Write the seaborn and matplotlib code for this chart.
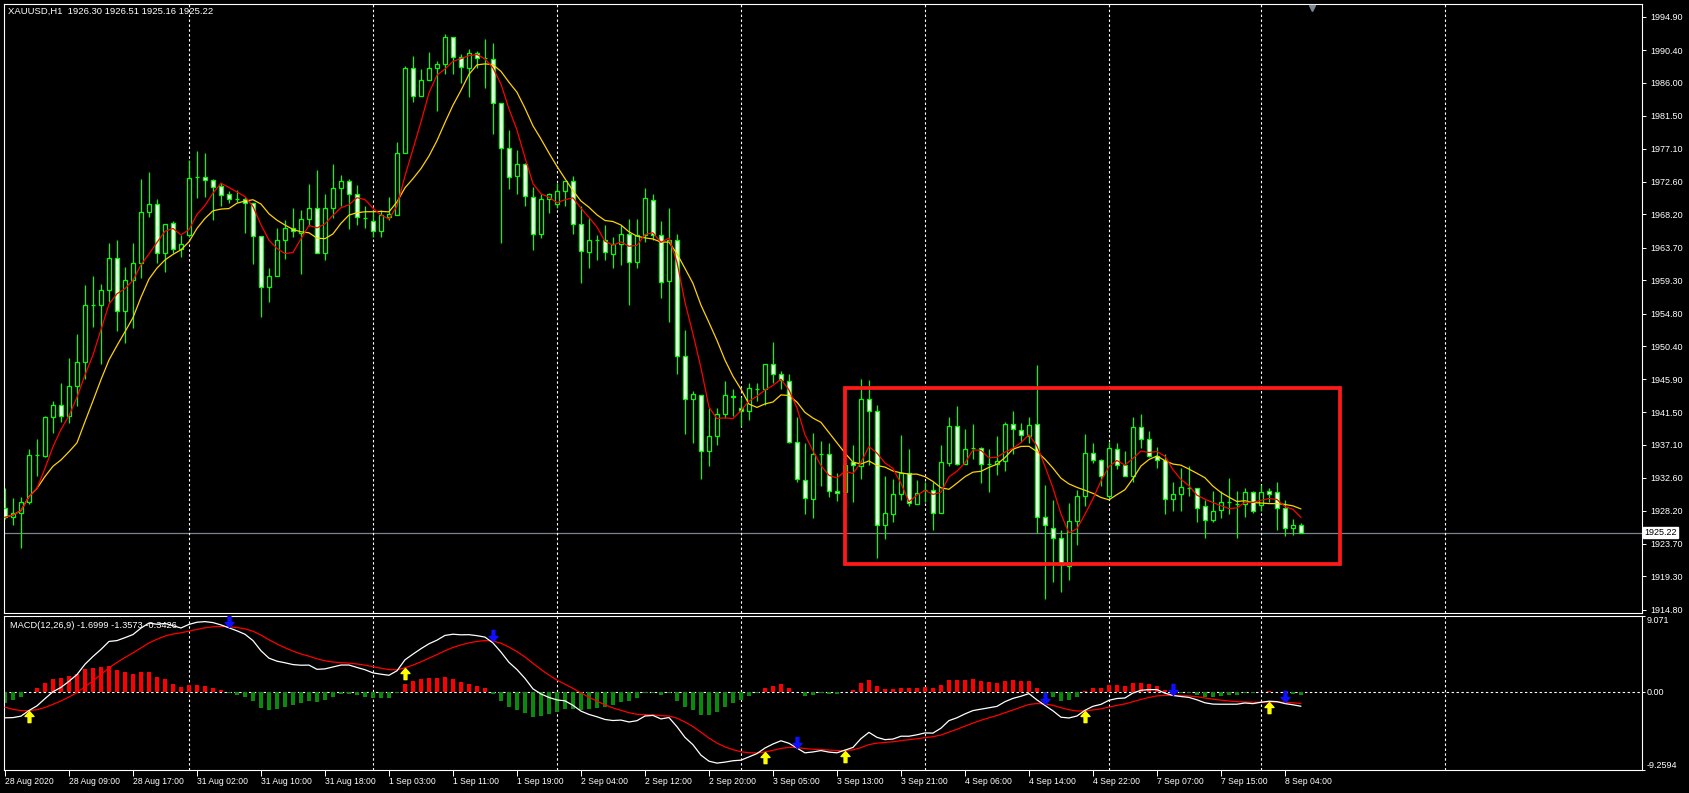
import numpy as np
import pandas as pd
import matplotlib
matplotlib.use('Agg')
import matplotlib.pyplot as plt
import matplotlib.transforms as mtransforms
from matplotlib.patches import Rectangle
from matplotlib.path import Path
import seaborn as sns

# XAUUSD H1 candles, bar 0 = 28 Aug 2020 01:00
opens = [1928.6, 1927.3, 1927.8, 1929.4, 1935.7, 1935.6, 1940.8, 1942.5, 1941.0, 1945.0,
         1948.2, 1955.9, 1955.9, 1958.0, 1962.3, 1955.2, 1959.4, 1961.6, 1968.5, 1969.6,
         1963.0, 1967.1, 1963.5, 1965.4, 1973.2, 1973.2, 1972.9, 1972.1, 1970.9, 1970.3,
         1970.3, 1969.7, 1965.3, 1958.4, 1959.9, 1964.7, 1966.3, 1965.7, 1967.6, 1969.0,
         1963.0, 1969.0, 1971.7, 1972.7, 1971.0, 1967.7, 1967.3, 1966.0, 1967.9, 1968.1,
         1976.5, 1988.0, 1984.2, 1986.3, 1988.0, 1988.5, 1992.2, 1989.4, 1988.0, 1990.0,
         1989.3, 1989.2, 1983.2, 1977.2, 1973.4, 1975.0, 1970.6, 1965.6, 1970.3, 1969.6,
         1971.4, 1972.7, 1966.9, 1963.1, 1964.8, 1964.8, 1962.9, 1964.2, 1965.6, 1961.8,
         1965.4, 1970.2, 1965.4, 1959.2, 1964.8, 1949.1, 1943.3, 1943.8, 1936.2, 1938.3,
         1941.2, 1943.7, 1942.1, 1941.6, 1944.6, 1944.6, 1948.0, 1946.6, 1945.7, 1937.4,
         1932.3, 1929.7, 1935.8, 1935.8, 1930.8, 1930.7, 1934.7, 1934.2, 1943.3, 1941.6,
         1926.2, 1927.7, 1930.4, 1933.3, 1929.1, 1931.0, 1931.0, 1927.8, 1934.6, 1939.6,
         1934.5, 1936.6, 1936.6, 1934.5, 1934.5, 1934.9, 1939.9, 1939.1, 1938.3, 1939.9,
         1927.3, 1925.9, 1924.5, 1920.7, 1926.8, 1930.2, 1936.0, 1935.0, 1930.2, 1936.5,
         1934.3, 1932.9, 1939.5, 1937.9, 1935.6, 1935.0, 1929.7, 1930.4, 1931.3, 1931.2,
         1928.8, 1926.9, 1928.3, 1929.3, 1929.1, 1929.1, 1930.7, 1929.0, 1930.8, 1930.7,
         1928.5, 1925.8, 1926.30]
highs = [1931.2, 1929.9, 1930.0, 1936.5, 1937.9, 1941.0, 1943.0, 1945.4, 1948.8, 1952.1,
         1958.6, 1959.9, 1958.8, 1964.3, 1964.7, 1961.1, 1964.3, 1973.0, 1973.9, 1970.3,
         1966.9, 1967.3, 1965.4, 1975.5, 1976.7, 1976.5, 1973.0, 1972.5, 1971.3, 1971.5,
         1970.5, 1969.8, 1965.3, 1960.9, 1966.4, 1967.5, 1969.0, 1968.8, 1972.3, 1974.2,
         1970.9, 1975.0, 1973.5, 1973.0, 1972.2, 1969.4, 1968.8, 1968.8, 1970.6, 1978.0,
         1988.2, 1989.6, 1987.9, 1990.1, 1988.9, 1992.6, 1992.2, 1989.8, 1990.5, 1990.3,
         1991.9, 1991.4, 1983.2, 1979.6, 1976.9, 1975.1, 1971.9, 1970.9, 1971.1, 1972.5,
         1972.7, 1973.4, 1969.3, 1967.7, 1965.4, 1966.8, 1965.2, 1966.8, 1967.6, 1967.6,
         1971.8, 1970.9, 1967.3, 1969.0, 1965.6, 1952.6, 1944.3, 1943.8, 1942.0, 1942.0,
         1945.7, 1944.6, 1943.6, 1945.4, 1945.4, 1948.0, 1951.0, 1947.1, 1946.7, 1940.8,
         1937.3, 1938.7, 1937.6, 1937.3, 1933.3, 1934.9, 1937.0, 1945.9, 1945.8, 1942.5,
         1932.8, 1932.5, 1938.4, 1936.5, 1932.3, 1932.0, 1932.1, 1937.0, 1940.9, 1942.3,
         1939.2, 1939.9, 1936.8, 1936.5, 1938.3, 1940.1, 1941.7, 1940.0, 1940.8, 1947.9,
         1931.7, 1929.6, 1925.6, 1929.2, 1931.0, 1938.6, 1937.3, 1935.2, 1937.5, 1937.3,
         1936.3, 1940.8, 1941.2, 1938.9, 1936.8, 1935.9, 1932.0, 1933.9, 1934.2, 1931.2,
         1929.6, 1930.9, 1930.8, 1932.6, 1930.9, 1931.2, 1930.9, 1931.7, 1931.3, 1932.0,
         1929.6, 1927.1, 1926.51]
lows = [1927.0, 1926.2, 1923.1, 1929.1, 1932.9, 1935.4, 1938.7, 1940.1, 1940.0, 1942.3,
        1945.9, 1953.0, 1948.0, 1956.4, 1952.4, 1950.8, 1952.8, 1959.6, 1967.8, 1961.7,
        1960.4, 1963.0, 1962.5, 1965.1, 1970.4, 1970.6, 1967.4, 1969.3, 1969.8, 1969.9,
        1965.7, 1961.5, 1954.3, 1956.4, 1959.9, 1962.2, 1965.1, 1960.2, 1966.7, 1963.0,
        1962.1, 1967.7, 1969.3, 1966.2, 1966.8, 1966.4, 1965.1, 1965.2, 1967.5, 1968.1,
        1976.5, 1983.4, 1984.2, 1986.3, 1982.1, 1987.2, 1987.2, 1985.9, 1984.0, 1988.0,
        1985.3, 1979.0, 1964.3, 1971.6, 1970.9, 1969.3, 1963.4, 1965.0, 1968.4, 1969.0,
        1969.3, 1965.5, 1958.9, 1961.0, 1962.1, 1962.1, 1960.9, 1961.4, 1956.0, 1961.0,
        1964.5, 1964.8, 1956.9, 1953.6, 1946.6, 1938.6, 1937.3, 1932.5, 1934.2, 1937.0,
        1940.7, 1941.0, 1939.6, 1940.4, 1943.0, 1942.5, 1945.4, 1944.6, 1937.3, 1932.1,
        1927.7, 1927.2, 1931.5, 1930.0, 1929.5, 1930.5, 1929.3, 1932.5, 1934.4, 1921.8,
        1924.4, 1926.7, 1929.6, 1928.8, 1929.1, 1929.4, 1925.6, 1927.8, 1934.2, 1934.4,
        1934.5, 1935.2, 1931.9, 1930.7, 1933.0, 1933.5, 1935.9, 1937.4, 1937.3, 1925.2,
        1916.2, 1918.6, 1917.2, 1918.8, 1923.5, 1928.8, 1934.6, 1931.5, 1929.9, 1933.8,
        1932.8, 1932.0, 1936.6, 1935.4, 1934.0, 1927.7, 1928.2, 1928.2, 1930.2, 1926.6,
        1924.5, 1926.6, 1927.2, 1927.7, 1924.5, 1927.3, 1927.8, 1928.2, 1929.4, 1925.6,
        1924.8, 1924.9, 1925.16]
closes = [1927.3, 1927.9, 1929.4, 1935.7, 1935.7, 1940.8, 1942.5, 1941.0, 1945.0, 1948.2,
          1955.9, 1956.0, 1958.0, 1962.3, 1955.2, 1959.4, 1961.6, 1968.5, 1969.6, 1963.0,
          1966.9, 1963.5, 1964.2, 1973.1, 1973.3, 1972.9, 1971.9, 1970.8, 1970.3, 1970.3,
          1969.7, 1965.3, 1958.4, 1959.9, 1964.7, 1966.3, 1966.0, 1967.6, 1969.0, 1963.0,
          1969.0, 1971.8, 1972.7, 1971.0, 1967.8, 1967.7, 1966.0, 1968.1, 1968.3, 1976.5,
          1988.0, 1984.2, 1986.3, 1988.0, 1988.5, 1992.2, 1989.4, 1988.1, 1990.0, 1989.3,
          1989.3, 1983.2, 1977.2, 1973.3, 1975.0, 1970.7, 1965.6, 1970.3, 1971.0, 1971.3,
          1972.7, 1966.9, 1963.3, 1964.8, 1964.8, 1963.1, 1964.2, 1965.6, 1961.8, 1965.4,
          1970.4, 1965.4, 1959.1, 1964.8, 1949.1, 1943.3, 1944.0, 1936.2, 1938.3, 1941.3,
          1943.8, 1943.5, 1941.6, 1944.7, 1944.6, 1948.0, 1946.6, 1945.8, 1937.5, 1932.4,
          1929.9, 1935.8, 1935.8, 1930.9, 1930.6, 1934.4, 1934.3, 1943.3, 1941.6, 1926.2,
          1927.8, 1930.5, 1933.3, 1929.2, 1930.6, 1931.0, 1927.8, 1934.7, 1939.6, 1934.5,
          1936.5, 1936.6, 1934.5, 1934.5, 1934.9, 1939.9, 1939.2, 1938.4, 1939.8, 1927.3,
          1926.3, 1924.5, 1920.9, 1926.8, 1930.2, 1936.0, 1935.0, 1932.9, 1936.6, 1934.3,
          1932.9, 1939.5, 1937.9, 1935.6, 1935.0, 1929.7, 1930.4, 1931.4, 1931.3, 1928.6,
          1926.9, 1928.2, 1929.3, 1929.3, 1929.1, 1930.7, 1928.1, 1930.7, 1930.5, 1928.5,
          1925.9, 1926.2, 1925.22]

time_labels = ['28 Aug 2020', '28 Aug 09:00', '28 Aug 17:00', '31 Aug 02:00', '31 Aug 10:00',
               '31 Aug 18:00', '1 Sep 03:00', '1 Sep 11:00', '1 Sep 19:00', '2 Sep 04:00',
               '2 Sep 12:00', '2 Sep 20:00', '3 Sep 05:00', '3 Sep 13:00', '3 Sep 21:00',
               '4 Sep 06:00', '4 Sep 14:00', '4 Sep 22:00', '7 Sep 07:00', '7 Sep 15:00',
               '8 Sep 04:00']
label_step = 8
day_start_bars = [23, 46, 69, 92, 115, 138, 157, 180]
price_ticks = [1994.90, 1990.40, 1986.00, 1981.50, 1977.10, 1972.60, 1968.20, 1963.70,
               1959.30, 1954.80, 1950.40, 1945.90, 1941.50, 1937.10, 1932.60, 1928.20,
               1923.70, 1919.30, 1914.80]
macd_ticks = [9.071, 0.0, -9.2594]
macd_readout = [-1.6999, -1.3573, -0.3426]
# indicator state carried in from the bars before the window (the MACD opens near -3)
ema12_start = 1931.0
ema26_start = 1934.0
signal_start = -1.5
box_bars = [105.0, 166.9]
box_prices = [1920.94, 1944.81]

LIME = '#00ff00'
W, H = 1689, 793

sns.set_theme(style='dark', rc={'axes.facecolor': 'black', 'figure.facecolor': 'black',
                                'axes.edgecolor': 'white', 'axes.grid': False})
plt.rcParams['font.family'] = ['Liberation Sans', 'DejaVu Sans']


def ema(values, span, start):
    a = 2.0 / (span + 1)
    out = []
    prev = start
    for v in values:
        prev = a * v + (1 - a) * prev
        out.append(prev)
    return np.array(out)


df = pd.DataFrame({'open': opens, 'high': highs, 'low': lows, 'close': closes})
df['bar'] = np.arange(len(df))
df['ma_fast'] = df['close'].rolling(5, min_periods=1).mean()
df['ma_slow'] = df['close'].rolling(10, min_periods=1).mean()
df['macd'] = ema(closes, 12, ema12_start) - ema(closes, 26, ema26_start)
df['signal'] = ema(df['macd'], 9, signal_start)
df['hist'] = df['macd'] - df['signal']

fig = plt.figure(figsize=(W / 100, H / 100), dpi=100, facecolor='black')


def px_axes(x0, y0, x1, y1):
    return fig.add_axes([x0 / W, 1 - y1 / H, (x1 - x0) / W, (y1 - y0) / H])


ax_p = px_axes(4, 4, 1641.7, 613)
ax_m = px_axes(4, 615.6, 1641.7, 769.9)
xlim = (-0.125, 204.6)

# ---- price panel
bull = df['close'] >= df['open']
ax_p.vlines(df['bar'], df['low'], df['high'], color=LIME, lw=0.9, zorder=2)
body_lo = df[['open', 'close']].min(axis=1)
body_h = (df['close'] - df['open']).abs()
ax_p.bar(df['bar'], body_h, bottom=body_lo, width=0.6,
         color=np.where(bull, 'black', 'white'), edgecolor=LIME, linewidth=0.9, zorder=3)
sns.lineplot(data=df, x='bar', y='ma_slow', color='#ffd200', lw=0.9, ax=ax_p, zorder=4)
sns.lineplot(data=df, x='bar', y='ma_fast', color='#ff0000', lw=0.9, ax=ax_p, zorder=5)

ax_p.axhline(df['close'].iloc[-1], color='#7a8490', lw=0.9, zorder=1)
for b in day_start_bars:
    ax_p.axvline(b, color='white', lw=0.8, ls=(0, (2.2, 2.2)), zorder=1)
    ax_m.axvline(b, color='white', lw=0.8, ls=(0, (2.2, 2.2)), zorder=1)

ax_p.add_patch(Rectangle((box_bars[0], box_prices[0]), box_bars[1] - box_bars[0],
                         box_prices[1] - box_prices[0], fill=False,
                         edgecolor='#ff1a1a', lw=2.7, zorder=6))

ax_p.set_xlim(*xlim)
ax_p.set_ylim(1914.36, 1996.62)
ax_p.set_xticks([])
ax_p.yaxis.tick_right()
ax_p.set_yticks(price_ticks)
ax_p.set_yticklabels([f'{v:.2f}' for v in price_ticks])
ax_p.tick_params(axis='y', colors='white', labelsize=6.5, length=3, width=0.7, pad=3,
                 direction='out', right=True, left=False)
ax_p.set_xlabel('')
ax_p.set_ylabel('')

trans_y = mtransforms.blended_transform_factory(ax_p.transAxes, ax_p.transData)
ax_p.text(1.0015, df['close'].iloc[-1], f"{df['close'].iloc[-1]:.2f}", transform=trans_y,
          ha='left', va='center', fontsize=6.5, color='black', clip_on=False, zorder=10,
          bbox=dict(boxstyle='square,pad=0.12', fc='white', ec='white'))
trans_x = mtransforms.blended_transform_factory(ax_p.transData, ax_p.transAxes)
ax_p.plot([len(df) + 0.4], [0.993], marker='v', color='#7d8894', ms=5, transform=trans_x,
          clip_on=False, zorder=10)

last = df.iloc[-1]
fig.text(8 / W, 1 - 11 / H,
         f"XAUUSD,H1  {last['open']:.2f} {last['high']:.2f} {last['low']:.2f} {last['close']:.2f}",
         color='white', fontsize=6.8, ha='left', va='center')

# ---- MACD panel
ax_m.axhline(0, color='white', lw=0.8, ls=(0, (2.2, 2.2)), zorder=1)
ax_m.bar(df['bar'], df['hist'], width=0.48, linewidth=0, edgecolor='none',
         color=np.where(df['hist'] >= 0, '#ff0000', '#0a8a0a'), zorder=2)
sns.lineplot(data=df, x='bar', y='signal', color='#ff0000', lw=0.9, ax=ax_m, zorder=3)
sns.lineplot(data=df, x='bar', y='macd', color='white', lw=0.9, ax=ax_m, zorder=4)

# cross arrows: tip sits on the signal line
up_arrow = Path([(0, 0), (0.4, -0.45), (0.13, -0.45), (0.13, -1.0), (-0.13, -1.0),
                 (-0.13, -0.45), (-0.4, -0.45), (0, 0)], closed=True)
down_arrow = Path([(x, -y) for x, y in up_arrow.vertices], closed=True)
above = (df['macd'] > df['signal']).astype(int)
cross = above.diff().fillna(0)
ups = df[cross > 0]
downs = df[cross < 0]
ax_m.plot(ups['bar'], ups['signal'], ls='none', marker=up_arrow, ms=16,
          color='#ffff00', mec='#ffff00', zorder=6)
ax_m.plot(downs['bar'], downs['signal'], ls='none', marker=down_arrow, ms=16,
          color='#1010ff', mec='#1010ff', zorder=6)

fig.text(9.8 / W, 1 - 625 / H,
         'MACD(12,26,9) ' + ' '.join(f'{v:.4f}' for v in macd_readout),
         color='white', fontsize=6.7, ha='left', va='center')

ax_m.set_xlim(*xlim)
ax_m.set_ylim(-9.2594, 9.071)
ax_m.yaxis.tick_right()
ax_m.set_yticks(macd_ticks)
ax_m.set_yticklabels(['9.071', '0.00', '-9.2594'])
ax_m.tick_params(axis='y', colors='white', labelsize=6.5, length=2, width=0.7, pad=1.5,
                 right=True, left=False)
tl = ax_m.get_yticklabels()
tl[0].set_va('top')
tl[-1].set_va('bottom')
ax_m.set_xticks(np.arange(len(time_labels)) * label_step)
ax_m.set_xticklabels(time_labels)
ax_m.tick_params(axis='x', colors='white', labelsize=6.2, length=4, width=0.7, pad=1.2,
                 bottom=True, direction='out')
for lbl in ax_m.get_xticklabels():
    lbl.set_ha('left')
ax_m.set_xlabel('')
ax_m.set_ylabel('')

for ax in (ax_p, ax_m):
    for s in ax.spines.values():
        s.set_color('white')
        s.set_linewidth(0.8)

fig.savefig('out.png', dpi=100, facecolor='black')
